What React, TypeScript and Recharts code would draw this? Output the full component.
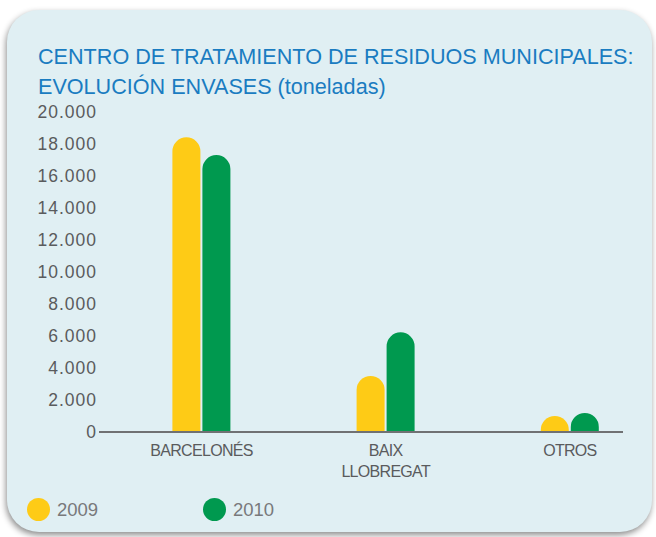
import { Bar, BarChart, XAxis, YAxis } from 'recharts';

const categories = ['BARCELONÉS', 'BAIX LLOBREGAT', 'OTROS'];
const values2009 = [18420, 3500, 1000];
const values2010 = [17310, 6230, 1190];
const yTicks = [0, 2000, 4000, 6000, 8000, 10000, 12000, 14000, 16000, 18000, 20000];

const YELLOW = '#fecb16';
const GREEN = '#00994f';

const data = categories.map((name, i) => ({
  name,
  y2009: values2009[i],
  y2010: values2010[i],
}));

const fmt = (v: number) => (v === 0 ? '0' : v.toLocaleString('de-DE'));

function CategoryTick({ x, y, payload }: any) {
  const lines = String(payload.value).split(' ');
  return (
    <text
      x={x}
      y={y}
      textAnchor="middle"
      fill="#5a5b5d"
      fontSize={16}
      style={{ letterSpacing: -0.7 }}
    >
      {lines.map((l, i) => (
        <tspan key={l} x={x} dy={i === 0 ? 16 : 21}>
          {l}
        </tspan>
      ))}
    </text>
  );
}

// pill-topped bar: round cap keeps its full radius even on short bars
function PillBar({ x, y, width, height, fill }: any) {
  if (!height || height <= 0) return null;
  const r = Math.min(width / 2, height);
  const bottom = y + height;
  const d = `M${x},${bottom} L${x},${y + r} A${r},${r} 0 0 1 ${x + 2 * r},${y + r} L${x + width},${bottom} Z`;
  return <path d={d} fill={fill} />;
}

export default function App() {
  return (
    <div
      style={{
        position: 'absolute',
        left: 0,
        top: 0,
        width: 656,
        height: 537,
        background: '#fff',
        fontFamily: '"Liberation Sans", Arial, sans-serif',
        overflow: 'hidden',
      }}
    >
      <div
        style={{
          position: 'absolute',
          left: 7,
          top: 10,
          width: 645,
          height: 522,
          borderRadius: 32,
          background: '#e0eff3',
          boxShadow: '-1px 3px 6px rgba(0,0,0,0.45)',
        }}
      />
      <div
        style={{
          position: 'absolute',
          left: 38,
          top: 42,
          color: '#1a7cc1',
          fontSize: 21.6,
          lineHeight: '30px',
          whiteSpace: 'nowrap',
        }}
      >
        <div>CENTRO DE TRATAMIENTO DE RESIDUOS MUNICIPALES:</div>
        <div>EVOLUCIÓN ENVASES (toneladas)</div>
      </div>
      <div style={{ position: 'absolute', left: 0, top: 0 }}>
        <BarChart
          width={656}
          height={537}
          data={data}
          margin={{ top: 112, right: 33, bottom: 65, left: 39 }}
          barSize={28}
          barGap={2}
        >
          <XAxis
            dataKey="name"
            height={40}
            padding={{ left: 10.4, right: -39 }}
            axisLine={{ stroke: '#707173', strokeWidth: 2 }}
            tickLine={false}
            tick={<CategoryTick />}
            interval={0}
          />
          <YAxis
            width={60}
            domain={[0, 20000]}
            ticks={yTicks}
            tickFormatter={fmt}
            axisLine={false}
            tickLine={false}
            tickSize={0}
            tickMargin={2}
            tick={{ fill: '#5a5b5d', fontSize: 17.5, letterSpacing: 1 }}
          />
          <Bar dataKey="y2009" fill={YELLOW} shape={<PillBar />} isAnimationActive={false} />
          <Bar dataKey="y2010" fill={GREEN} shape={<PillBar />} isAnimationActive={false} />
        </BarChart>
      </div>
      <div
        style={{
          position: 'absolute',
          left: 27,
          top: 498,
          display: 'flex',
          alignItems: 'center',
          fontSize: 18.5,
          color: '#78797b',
        }}
      >
        <span style={{ width: 23, height: 23, borderRadius: '50%', background: YELLOW, display: 'inline-block' }} />
        <span style={{ marginLeft: 7, width: 146 }}>2009</span>
        <span style={{ width: 23, height: 23, borderRadius: '50%', background: GREEN, display: 'inline-block' }} />
        <span style={{ marginLeft: 7 }}>2010</span>
      </div>
    </div>
  );
}
